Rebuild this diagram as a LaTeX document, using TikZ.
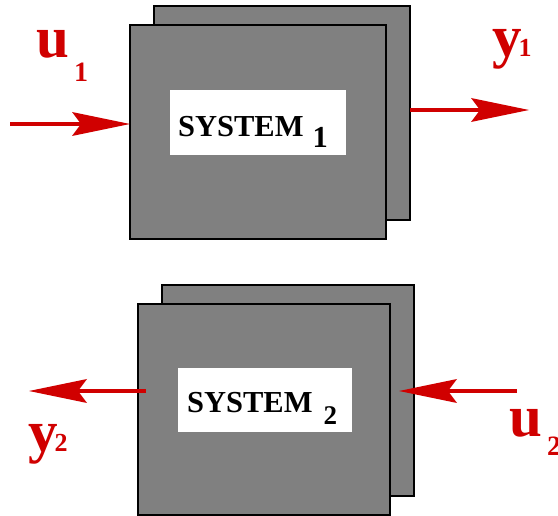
\documentclass[tikz,border=0pt]{standalone}
\usepackage{fontspec}
\setmainfont{Liberation Serif}
\usetikzlibrary{arrows.meta,calc}
\definecolor{sigred}{RGB}{208,0,0}
\definecolor{boxgray}{RGB}{128,128,128}

\begin{document}
\begin{tikzpicture}[x=1pt, y=-1pt,
  sysbox/.style={draw=black, line width=1.1pt, fill=boxgray, inner sep=0pt, outer sep=0pt},
  labelbox/.style={fill=white, inner sep=0pt, outer sep=0pt},
  systext/.style={font=\bfseries\fontsize{30.5}{36}\selectfont, inner sep=0pt, anchor=base west},
  sig/.style={draw=sigred, line width=4.5pt, -{Stealth[length=58pt, width=24pt, inset=9pt, line width=0pt]}, fill=sigred},
  siglabel/.style={text=sigred, font=\bfseries\fontsize{59}{60}\selectfont, inner sep=0pt, anchor=base west}]
  \useasboundingbox (0,0) rectangle (558,516);

  % ============ TOP: SYSTEM 1 ============
  \node[sysbox, minimum width=256pt, minimum height=214pt] (back1) at (282,113) {};
  \node[sysbox, minimum width=256pt, minimum height=214pt] (sys1) at (258,132) {};
  \node[labelbox, minimum width=176pt, minimum height=65pt] (box1) at (258,122.5) {};
  \node[systext] (txt1) at (178,137) {SYSTEM\hspace{9pt}\raisebox{-11pt}{1}};

  % input from the left, output to the right
  \coordinate (u1tail) at (10,124);
  \coordinate (y1head) at (529,110);
  \draw[sig] (u1tail) -- (sys1.west |- u1tail);
  \draw[sig] (back1.east |- y1head) -- (y1head);
  \node[siglabel] (u1) at (36,58)
    {u\hspace{5pt}\raisebox{-24pt}{\fontsize{28}{30}\selectfont 1}};
  \node[siglabel] (y1) at (492,57)
    {y\hspace{-3pt}{\fontsize{26}{28}\selectfont 1}};

  % ============ BOTTOM: SYSTEM 2 ============
  \node[sysbox, minimum width=252pt, minimum height=211pt] (back2) at (288,390.5) {};
  \node[sysbox, minimum width=252pt, minimum height=211pt] (sys2) at (264,409.5) {};
  \node[labelbox, minimum width=174pt, minimum height=64pt] (box2) at (265,400) {};
  \node[systext] (txt2) at (187,413) {SYSTEM\hspace{11pt}\raisebox{-12pt}{\fontsize{27}{30}\selectfont 2}};

  % output to the left, input from the right
  \coordinate (y2head) at (29,391);
  \coordinate (u2tail) at (517,391);
  \draw[sig] ($(sys2.west |- y2head)+(8,0)$) -- (y2head);
  \draw[sig] (u2tail) -- ($(back2.east |- u2tail)+(-15,0)$);
  \node[siglabel] (y2) at (28,452)
    {y\hspace{-3pt}{\fontsize{26}{28}\selectfont 2}};
  \node[siglabel] (u2) at (509,437)
    {u\hspace{5pt}\raisebox{-18pt}{\fontsize{28}{30}\selectfont 2}};
\end{tikzpicture}
\end{document}
